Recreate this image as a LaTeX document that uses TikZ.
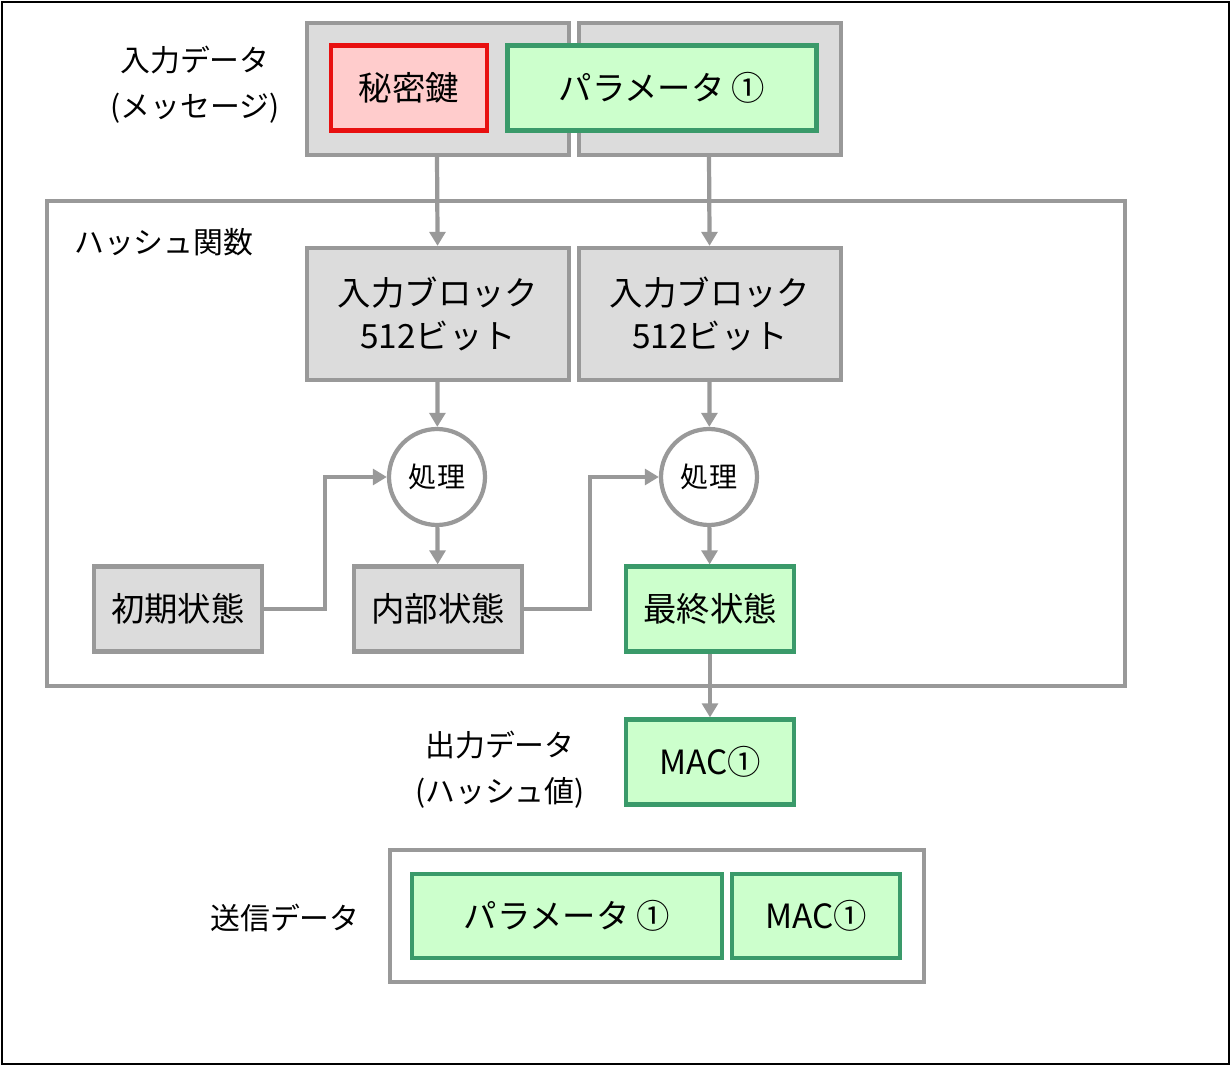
\documentclass[tikz,border=0pt]{standalone}
\usepackage{fontspec}
\newfontfamily\jpfont{Noto Sans CJK JP}
\usetikzlibrary{positioning,arrows.meta}
\definecolor{boxgray}{HTML}{DCDCDC}
\definecolor{linegray}{HTML}{999999}
\definecolor{keygreen}{HTML}{3A9A6A}
\definecolor{fillgreen}{HTML}{CCFFCC}
\definecolor{keyred}{HTML}{E81010}
\definecolor{fillred}{HTML}{FFCCCC}
\begin{document}
\begin{tikzpicture}[%
x=0.02cm, y=-0.02cm,
>={Triangle[length=8pt,width=9pt]},
font=\jpfont\fontsize{19}{24}\selectfont,
graybox/.style={draw=linegray, fill=boxgray, line width=2.4pt, inner sep=0pt},
greenbox/.style={draw=keygreen, fill=fillgreen, line width=2.4pt, inner sep=0pt},
redbox/.style={draw=keyred, fill=fillred, line width=2.4pt, inner sep=0pt},
proc/.style={circle, draw=linegray, fill=white, line width=2.4pt, minimum size=1.92cm, inner sep=0pt},
flow/.style={->, draw=linegray, line width=2.4pt},
caption/.style={align=center, font=\jpfont\fontsize{17}{26}\selectfont}
]
\useasboundingbox (0,0) rectangle (1232,1067);
\draw[line width=1pt] (2,2) rectangle (1229,1064);

% input data
\draw[graybox] (307,23) rectangle (569,155);
\draw[graybox] (579,23) rectangle (841,155);
\node[redbox, minimum width=3.12cm, minimum height=1.7cm] (key) at (409,88) {秘密鍵};
\node[greenbox, minimum width=6.18cm, minimum height=1.7cm] (param) at (662,88) {パラメータ ①};
\node[caption] (inlabel) at (195,85) {入力データ\\(メッセージ)};
\coordinate (keyout) at (437,155);
\coordinate (paramout) at (709,155);

% hash function
\draw[linegray, line width=2.4pt] (47,201) rectangle (1125,686);
\node[caption, anchor=west] (hashlabel) at (68,242) {ハッシュ関数};
\node[graybox, minimum width=5.24cm, minimum height=2.64cm, align=center] (blockA) at (438,314) {入力ブロック\\512ビット};
\node[graybox, minimum width=5.24cm, minimum height=2.64cm, align=center] (blockB) at (710,314) {入力ブロック\\512ビット};
\node[proc] (procA) at (437,477) {\fontsize{16}{20}\selectfont 処理};
\node[proc] (procB) at (709,477) {\fontsize{16}{20}\selectfont 処理};
\node[graybox, minimum width=3.36cm, minimum height=1.7cm] (init) at (178,609) {初期状態};
\node[graybox, minimum width=3.36cm, minimum height=1.7cm] (inner) at (438,609) {内部状態};
\node[greenbox, minimum width=3.36cm, minimum height=1.7cm] (final) at (710,609) {最終状態};

% output
\node[greenbox, minimum width=3.36cm, minimum height=1.7cm] (mac) at (710,762) {MAC①};
\node[caption] (outlabel) at (500,770) {出力データ\\(ハッシュ値)};

% sent data
\draw[draw=linegray, line width=2.4pt] (390,850) rectangle (924,982);
\node[greenbox, minimum width=6.2cm, minimum height=1.68cm] (sendparam) at (567,916) {パラメータ ①};
\node[greenbox, minimum width=3.36cm, minimum height=1.68cm] (sendmac) at (816,916) {MAC①};
\node[caption] (sendlabel) at (285,918) {送信データ};

% arrows
\draw[flow] (keyout) -- (blockA);
\draw[flow] (paramout) -- (blockB);
\draw[flow] (blockA) -- (procA);
\draw[flow] (blockB) -- (procB);
\draw[flow] (procA) -- (inner);
\draw[flow] (procB) -- (final);
\draw[flow] (init.east) -| (325,477) -- (procA.west);
\draw[flow] (inner.east) -| (590,477) -- (procB.west);
\draw[flow] (final) -- (mac);
\end{tikzpicture}
\end{document}
